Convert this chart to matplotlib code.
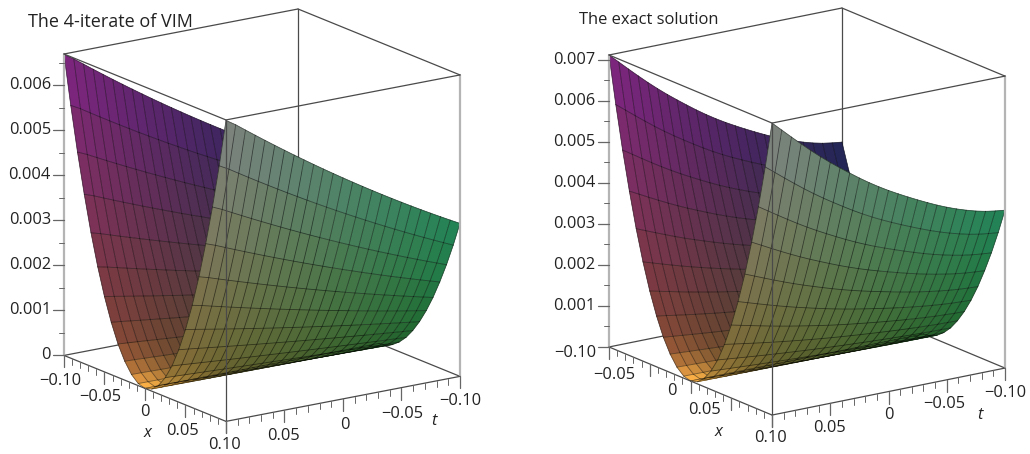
import numpy as np
import matplotlib
matplotlib.use("Agg")
import matplotlib.pyplot as plt
from matplotlib.transforms import IdentityTransform
from mpl_toolkits.mplot3d import proj3d

# ---- data ----
x_nodes = [-0.1, -0.09167, -0.08333, -0.075, -0.06667, -0.05833, -0.05, -0.04167, -0.03333, -0.025, -0.01667, -0.00833, 0.0,
           0.00833, 0.01667, 0.025, 0.03333, 0.04167, 0.05, 0.05833, 0.06667, 0.075, 0.08333, 0.09167, 0.1]
t_nodes = [-0.1, -0.09167, -0.08333, -0.075, -0.06667, -0.05833, -0.05, -0.04167, -0.03333, -0.025, -0.01667, -0.00833, 0.0,
           0.00833, 0.01667, 0.025, 0.03333, 0.04167, 0.05, 0.05833, 0.06667, 0.075, 0.08333, 0.09167, 0.1]
# share of the edge height reached across x
x_profile = [1.0, 0.84, 0.694, 0.563, 0.444, 0.34, 0.25, 0.174, 0.111, 0.063, 0.028, 0.007, 0.0,
             0.007, 0.028, 0.063, 0.111, 0.174, 0.25, 0.34, 0.444, 0.563, 0.694, 0.84, 1.0]
# height at x = +-0.1 along t, in units of 0.001
edge_vim = [3.40, 3.515, 3.632, 3.751, 3.872, 3.995, 4.12, 4.247, 4.376, 4.507, 4.64, 4.775, 4.912,
            5.051, 5.192, 5.335, 5.48, 5.627, 5.776, 5.927, 6.08, 6.235, 6.392, 6.551, 6.69]
edge_exact = [3.85, 3.879, 3.918, 3.972, 4.041, 4.12, 4.209, 4.308, 4.417, 4.531, 4.65, 4.774, 4.903,
              5.042, 5.191, 5.35, 5.519, 5.693, 5.872, 6.061, 6.26, 6.469, 6.683, 6.902, 7.12]

axis_ticks = [-0.10, -0.05, 0.0, 0.05, 0.10]
axis_labels = ["\u22120.10", "\u22120.05", "0", "0.05", "0.10"]
t_ticks = [0.05, 0.0, -0.05, -0.10]
t_labels = ["0.05", "0", "\u22120.05", "\u22120.10"]
minor_axis_ticks = [round(-0.10 + 0.01 * i, 2) for i in range(21)]
z_ticks_vim = [0.0, 0.001, 0.002, 0.003, 0.004, 0.005, 0.006]
z_labels_vim = ["0", "0.001", "0.002", "0.003", "0.004", "0.005", "0.006"]
z_ticks_exact = [0.001, 0.002, 0.003, 0.004, 0.005, 0.006, 0.007]
z_labels_exact = ["0.001", "0.002", "0.003", "0.004", "0.005", "0.006", "0.007"]
title_vim = "The 4-iterate of VIM"
title_exact = "The exact solution"

plt.rcParams["font.family"] = ["Open Sans", "DejaVu Sans"]
W, H = 1030, 454
FS = 11.8
DARK = "#4a4a4a"
PALE = "#b4b4b4"
fig = plt.figure(figsize=(W / 100, H / 100), dpi=100)


def make_panel(spec):
    ax = fig.add_axes([0.1, 0.1, 0.4, 0.4], projection="3d", computed_zorder=False)
    ax.set_proj_type("ortho")
    ax.view_init(elev=spec["elev"], azim=spec["azim"])
    ax.set_box_aspect(spec["aspect"])
    ax.set_xlim(-0.1, 0.1, view_margin=0)
    ax.set_ylim(-0.1, 0.1, view_margin=0)
    ax.set_zlim(0, spec["zmax"], view_margin=0)
    ax.set_axis_off()
    ax.patch.set_alpha(0)

    def px(t, x, z):
        M = ax.get_proj()
        a, b, _ = proj3d.proj_transform(t, x, z, M)
        return ax.transData.transform((a, b))

    # fit axes so that the box corners land where the reference has them
    A_t, C_t = spec["A_top"], spec["C_top"]
    ax.apply_aspect()
    w0 = ax.get_position().width * W
    d0 = px(-0.1, 0.1, spec["zmax"])[0] - px(0.1, -0.1, spec["zmax"])[0]
    S = w0 * (C_t[0] - A_t[0]) / d0
    ax.set_position([0.1, 0.1, S / W, S / H])
    ax.apply_aspect()
    p = px(0.1, -0.1, spec["zmax"])
    dx, dy = A_t[0] - p[0], (H - A_t[1]) - p[1]
    pos = ax.get_position()
    ax.set_position([pos.x0 + dx / W, pos.y0 + dy / H, S / W, S / H])
    ax.apply_aspect()
    return ax, px


def draw_panel(spec):
    ax, px = make_panel(spec)
    zmax = spec["zmax"]
    T, X = np.meshgrid(t_nodes, x_nodes)
    Z = np.outer(x_profile, spec["edge"]) * 0.001

    # colours: red follows t, green follows x, blue follows height, highlight at the valley mouth
    tc = (T[:-1, :-1] + T[1:, 1:]) / 2
    xc = (X[:-1, :-1] + X[1:, 1:]) / 2
    zc = (Z[:-1, :-1] + Z[1:, 1:]) / 2
    tn, xn, zn = (tc + 0.1) / 0.2, (xc + 0.1) / 0.2, zc / zmax
    glow = np.exp(-(xc / 0.022) ** 2 - ((tc - 0.1) / 0.035) ** 2)
    rgb = np.dstack([0.13 + 0.36 * tn + 0.52 * glow,
                     0.14 + 0.38 * xn + 0.38 * glow,
                     0.16 + 0.36 * zn + 0.12 * glow])
    rgb = np.clip(rgb, 0, 1)
    cols = np.dstack([rgb, np.ones(rgb.shape[:2])])

    def seg(a, b, color=DARK, lw=0.9, z=1):
        ln, = ax.plot([a[0], b[0]], [a[1], b[1]], [a[2], b[2]], color=color, lw=lw, zorder=z,
                      clip_on=False, solid_capstyle="round")
        return ln

    A0, B0, C0, D0 = (0.1, -0.1, 0), (0.1, 0.1, 0), (-0.1, 0.1, 0), (-0.1, -0.1, 0)
    A1, B1, C1, D1 = (0.1, -0.1, zmax), (0.1, 0.1, zmax), (-0.1, 0.1, zmax), (-0.1, -0.1, zmax)

    # back of the box
    seg(D0, D1, z=1)
    seg(A0, D0, z=1)
    seg(D0, C0, z=1)

    # surface: far half, then near half, each with its grid
    for k, rng in enumerate([(0, 13), (12, 25)]):
        s = slice(*rng)
        cs = slice(rng[0], rng[1] - 1)
        base = 2 + 2 * k
        surf = ax.plot_surface(T[s], X[s], Z[s], facecolors=cols[cs], rstride=1, cstride=1,
                               shade=False, linewidth=0.3, antialiased=True, zorder=base)
        surf.set_clip_on(False)
        for i in range(T[s].shape[0]):
            ax.plot(T[s][i], X[s][i], Z[s][i], color="k", lw=0.6, alpha=0.48, zorder=base + 1, clip_on=False)
        for j in range(T.shape[1]):
            ax.plot(T[s][:, j], X[s][:, j], Z[s][:, j], color="k", lw=0.6, alpha=0.48, zorder=base + 1, clip_on=False)

    # front of the box
    seg(A0, A1, color=PALE, lw=1.6, z=7)
    seg(C0, C1, color=PALE, lw=1.6, z=7)
    seg(B0, B1, z=7)
    seg(A1, B1, z=7)
    seg(B1, C1, z=7)
    seg(C1, D1, z=7)
    seg(D1, A1, z=7)
    seg(A0, B0, z=7)
    seg(B0, C0, z=7)

    # ticks: x and t hang straight down, z point straight left
    kz = zmax / spec["zpx"]
    for v in minor_axis_ticks:
        major = any(abs(v - m) < 1e-9 for m in axis_ticks)
        L = (12 if major else 6) * kz
        seg((0.1, v, 0), (0.1, v, -L), color="#666666", lw=0.9 if major else 0.7, z=8)
        seg((v, 0.1, 0), (v, 0.1, -L), color="#666666", lw=0.9 if major else 0.7, z=8)

    o = px(0.1, -0.1, 0)
    u = px(0.1, 0.1, 0) - o       # along +x
    v_ = px(-0.1, -0.1, 0) - o    # along -t
    coef = np.linalg.solve(np.array([u, v_]).T, np.array([-1.0, 0.0]))
    step_x, step_t = coef[0] * 0.2, -coef[1] * 0.2

    n_half = int(round(zmax / 0.0005))
    for i in range(n_half + 1):
        z = i * 0.0005
        major = i % 2 == 0
        L = 11 if major else 5.5
        seg((0.1, -0.1, z), (0.1 + step_t * L, -0.1 + step_x * L, z), color="#666666",
            lw=0.9 if major else 0.7, z=8)

    # labels
    tr = IdentityTransform()

    def label(bx, by, s, size=FS, **kw):
        fig.text(bx, by, s, transform=tr, fontsize=size, color="#222222", ha=kw.pop("ha", "center"),
                 va="center", **kw)

    for v, s, off in zip(axis_ticks, axis_labels, spec["x_off"]):
        p = px(0.1, v, 0)
        label(p[0] + off[0], p[1] - off[1], s)
    for v, s, off in zip(t_ticks, t_labels, spec["t_off"]):
        p = px(v, 0.1, 0)
        label(p[0] + off[0], p[1] - off[1], s)
    for v, s in zip(spec["zt"], spec["zl"]):
        p = px(0.1, -0.1, v)
        label(p[0] - spec["zpad"], p[1], s, ha="right")

    label(spec["x_lab"][0], H - spec["x_lab"][1], "x", style="italic")
    label(spec["t_lab"][0], H - spec["t_lab"][1], "t", style="italic")
    label(spec["title"][0], H - spec["title"][1], spec["title_s"], size=spec["title_fs"], ha="left")


draw_panel(dict(edge=edge_vim, zmax=0.0067, zpx=301.0, elev=16.25, azim=55.5, aspect=(284, 286, 314),
                A_top=(64, 54), C_top=(460, 75),
                x_off=[(-4, 26), (-4, 25), (0, 24), (-3, 26), (-1, 24)],
                t_off=[(-1, 26), (2, 26), (1, 26), (0, 25)],
                zt=z_ticks_vim, zl=z_labels_vim, zpad=13,
                x_lab=(148, 433), t_lab=(434, 421), title=(28, 22), title_s=title_vim, title_fs=13.0))
draw_panel(dict(edge=edge_exact, zmax=0.00712, zpx=292.0, elev=16.87, azim=55.2, aspect=(283.6, 285.6, 305),
                A_top=(609, 55), C_top=(1005, 76),
                x_off=[(-34, 6), (-35, 11), (-19, 10), (-27, 12), (-2, 23)],
                t_off=[(-1, 25), (0, 23), (-2, 24), (0, 25)],
                zt=z_ticks_exact, zl=z_labels_exact, zpad=14,
                x_lab=(719, 432), t_lab=(980, 415), title=(579, 20), title_s=title_exact, title_fs=11.9))

fig.savefig("out.png", dpi=100)
